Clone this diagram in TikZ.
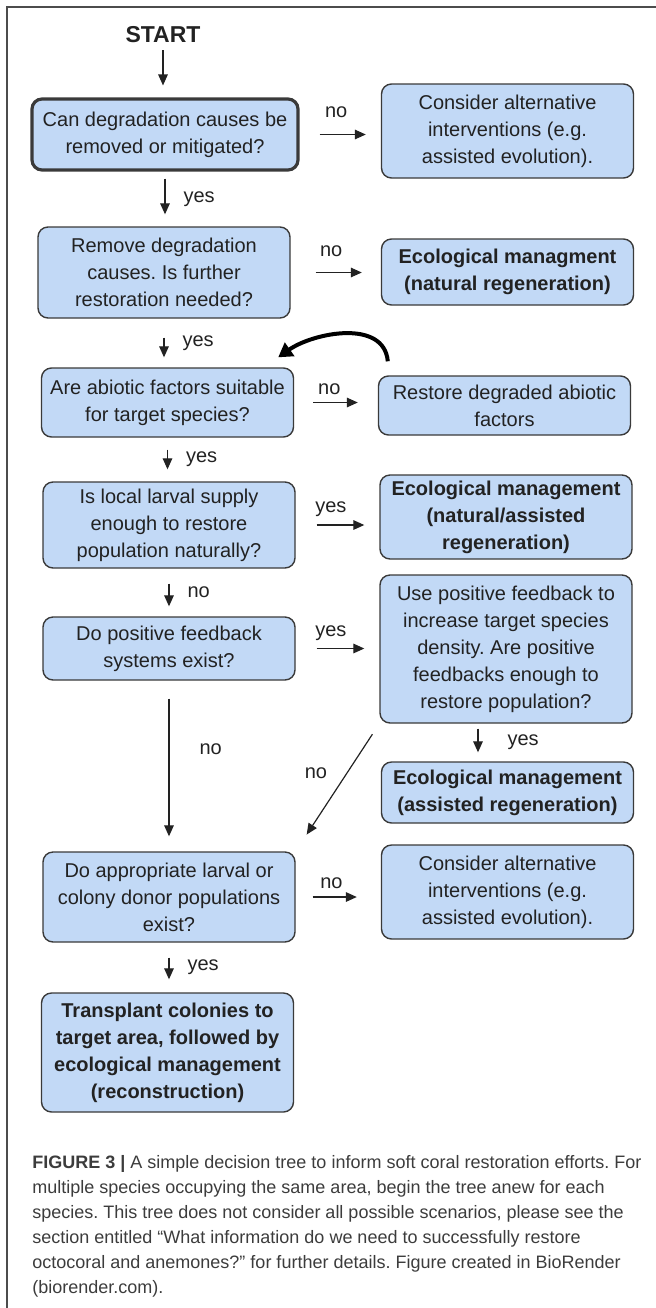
\documentclass[tikz,border=0pt]{standalone}
\usepackage{fontspec}
\setmainfont{Liberation Sans}
\usepackage{tikz}
\usetikzlibrary{arrows.meta,positioning,calc}
\definecolor{boxfill}{HTML}{C2D9F6}
\definecolor{boxline}{HTML}{3A3A3A}
\definecolor{inkgray}{HTML}{222222}
\definecolor{capgray}{HTML}{3C3C3C}
\frenchspacing

\begin{document}
\begin{tikzpicture}[
  x=0.5pt,y=-0.5pt,
  font=\fontsize{10}{13.5}\selectfont,
  box/.style={draw=boxline,line width=0.7pt,fill=boxfill,rounded corners=5pt,align=center,minimum width=126pt,inner sep=1pt,text=inkgray},
  boxbold/.style={box,font=\fontsize{10}{13.5}\selectfont\bfseries},
  flow/.style={-{Triangle[length=5.5pt,width=4.8pt]},line width=0.6pt,draw=inkgray},
  loopback/.style={-{Triangle[length=7pt,width=8pt]},line width=2pt,draw=black},
  lbl/.style={text=inkgray,inner sep=1pt},
  pageframe/.style={draw=black!70,line width=0.65pt}
]
\useasboundingbox (0,0) rectangle (656,1308);
\draw[pageframe] (656,7) -- (7,7) -- (7,1308);

% Left column: the chain of questions.
\node[font=\fontsize{11.5}{13}\selectfont\bfseries,text=inkgray] (start) at (163,35) {START};
\node[box,minimum width=133pt,minimum height=35.5pt,line width=1.6pt] (q1) at (165,134.5) {Can degradation causes be\\removed or mitigated?};
\node[box,minimum height=45.5pt] (q2) at (164,272.5) {Remove degradation\\causes. Is further\\restoration needed?};
\node[box,minimum height=34.5pt] (q3) at (167.5,402.5) {Are abiotic factors suitable\\for target species?};
\node[box,minimum height=43pt] (q4) at (169,525) {Is local larval supply\\enough to restore\\population naturally?};
\node[box,minimum height=31.5pt] (q5) at (169,648.5) {Do positive feedback\\systems exist?};
\node[box,minimum height=45pt] (q6) at (169,897) {Do appropriate larval or\\colony donor populations\\exist?};
\node[boxbold,minimum height=59.5pt] (transplant) at (167.5,1052.5) {Transplant colonies to\\target area, followed by\\ecological management\\(reconstruction)};

% Right column: outcomes.
\node[box,minimum height=47pt] (alt1) at (507.5,131) {Consider alternative\\interventions (e.g.\\assisted evolution).};
\node[boxbold,minimum height=33pt] (eco1) at (507.5,272) {Ecological managment\\(natural regeneration)};
\node[box,minimum height=29.5pt] (restore) at (504.5,405.5) {Restore degraded abiotic\\factors};
\node[boxbold,minimum height=42pt] (eco2) at (506,517) {Ecological management\\(natural/assisted\\regeneration)};
\node[box,minimum height=74pt] (usepos) at (506,649) {Use positive feedback to\\increase target species\\density. Are positive\\feedbacks enough to\\restore population?};
\node[boxbold,minimum height=30.5pt] (eco3) at (507.5,792.5) {Ecological management\\(assisted regeneration)};
\node[box,minimum height=47pt] (alt2) at (507.5,892) {Consider alternative\\interventions (e.g.\\assisted evolution).};

% Downward answers.
\draw[flow,shorten >=6pt] (start.south) -- (start.south |- q1.north);
\draw[flow,shorten <=3.5pt,shorten >=6pt] (q1.south) -- (q1.south |- q2.north) node[lbl,midway,right=8pt] (y1) {yes};
\draw[flow,shorten <=9.5pt,shorten >=5pt] (q2.south) -- (q2.south |- q3.north) node[lbl,midway,right=8pt] (y2) {yes};
\draw[flow,shorten <=6pt,shorten >=6pt] (q3.south) -- (q3.south |- q4.north) node[lbl,midway,right=8pt] (y3) {yes};
\draw[flow,shorten <=7.5pt,shorten >=5pt] (q4.south) -- (q4.south |- q5.north) node[lbl,midway,right=8pt] (n4) {no};
\draw[flow,shorten <=9pt,shorten >=7.5pt] (q5.south) -- (q5.south |- q6.north) node[lbl,pos=0.4,right=14pt] (n5) {no};
\draw[flow,shorten <=7.5pt,shorten >=6.5pt] (q6.south) -- (q6.south |- transplant.north) node[lbl,midway,right=8pt] (y6) {yes};
\draw[flow,shorten <=2.5pt,shorten >=4.5pt] ([xshift=-14pt]usepos.south) -- ([xshift=-14pt]usepos.south |- eco3.north) node[lbl,midway,right=13.5pt] (y7) {yes};

% Sideways answers.
\draw[flow,shorten <=10pt,shorten >=7.5pt] (q1.east) -- (q1.east -| alt1.west) node[lbl,pos=0.45,above=7pt] (n1) {no};
\draw[flow,shorten <=12.5pt,shorten >=9.5pt] (q2.east) -- (q2.east -| eco1.west) node[lbl,pos=0.45,above=6.4pt] (n2) {no};
\draw[flow,shorten <=9.5pt,shorten >=10pt] (q3.east) -- (q3.east -| restore.west) node[lbl,pos=0.42,above=2.4pt] (n3) {no};
\draw[flow,shorten <=10.5pt,shorten >=7.5pt] (q4.east) -- (q4.east -| eco2.west) node[lbl,pos=0.42,above=2.8pt] (y4) {yes};
\draw[flow,shorten <=10.5pt,shorten >=7.5pt] (q5.east) -- (q5.east -| usepos.west) node[lbl,pos=0.42,above=2.8pt] (y5) {yes};
\draw[flow,shorten <=8.5pt,shorten >=12pt] (q6.east) -- (q6.east -| alt2.west) node[lbl,pos=0.42,above=2.9pt] (n6) {no};
\draw[flow,shorten <=6.3pt,shorten >=10pt] (usepos.south west) -- (q6.north east) node[lbl,pos=0.39,left=8.5pt] (n7) {no};

% Back to the abiotic check once restored.
\draw[loopback] ([xshift=5pt,yshift=7pt]restore.north west) to[out=95,in=35] ([xshift=-8pt,yshift=5pt]q3.north east);

\node[anchor=north west,inner sep=0pt,align=left,font=\fontsize{9}{12.5}\selectfont,text=capgray] (caption) at (32,1155)
  {\textbf{FIGURE 3 |} A simple decision tree to inform soft coral restoration efforts. For\\
   multiple species occupying the same area, begin the tree anew for each\\
   species. This tree does not consider all possible scenarios, please see the\\
   section entitled “What information do we need to successfully restore\\
   octocoral and anemones?” for further details. Figure created in BioRender\\
   (biorender.com).};
\end{tikzpicture}
\end{document}
